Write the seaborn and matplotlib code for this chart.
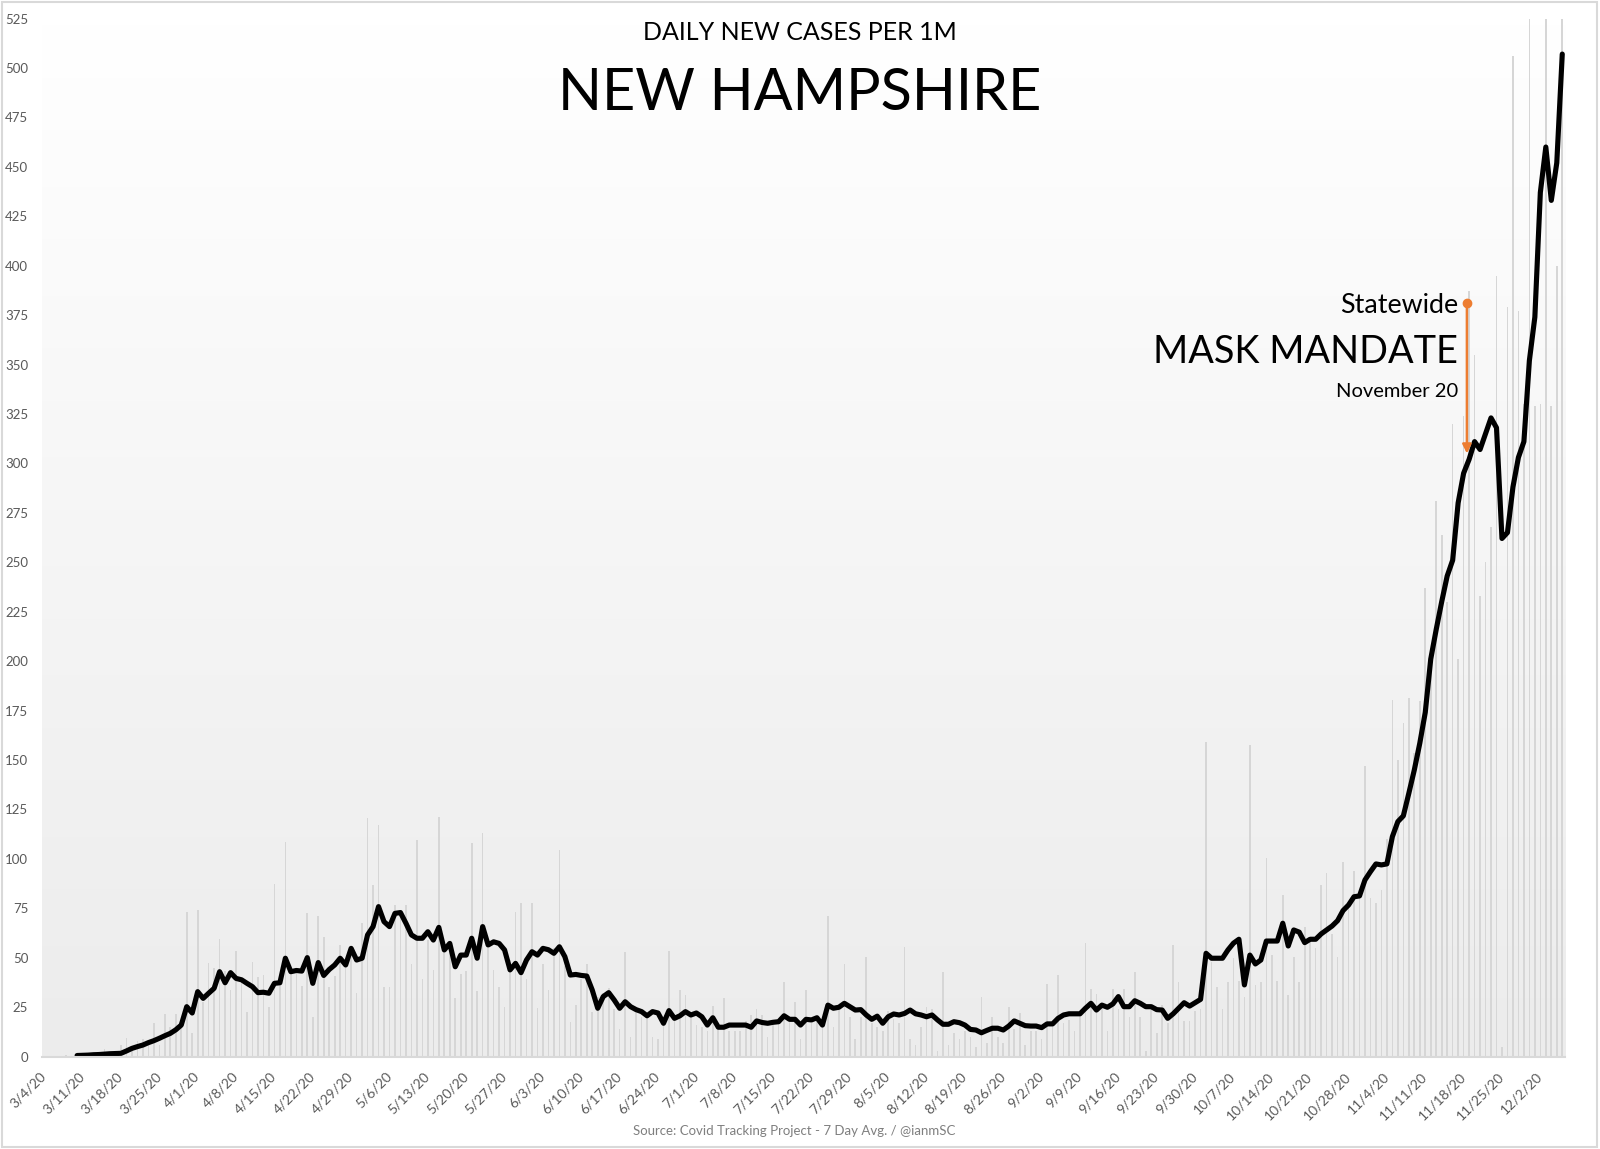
import numpy as np
import pandas as pd
import matplotlib
matplotlib.use("Agg")
import matplotlib.pyplot as plt
import seaborn as sns
from matplotlib.patches import Rectangle
from matplotlib.colors import LinearSegmentedColormap

# ---------------- data ----------------
start_date = "2020-03-04"

daily_cases = [
    0, 0, 0, 0, 1, 0, 0.5, 0, 1, 1,
    1.5, 4, 2, 2, 5.8, 9.2, 4, 8, 9, 6,
    16.8, 6, 21.3, 15, 21.3, 17, 73.3, 12, 74.1, 27.7,
    47.1, 44.6, 59.3, 43, 33.7, 53.5, 39.5, 22.5, 48, 40,
    41, 25, 87.1, 37, 108.7, 43, 45, 35.5, 72.4, 20,
    71, 60.6, 35, 40.6, 56.4, 47, 52, 32, 67.4, 120.5,
    86.7, 117, 35, 35.3, 76.6, 72, 76.6, 47, 109.5, 39,
    58.9, 43.8, 121, 55, 55, 29.4, 41.5, 43, 108, 33,
    112.9, 55, 43.8, 35.3, 25.2, 48.8, 73.3, 77.5, 39, 77.5,
    24.4, 47, 33.7, 55, 104.5, 46, 17.6, 26, 39, 47,
    22.5, 30, 32, 34.5, 24, 13.7, 52.7, 10, 22.5, 20,
    20, 10, 9, 18, 53.5, 18, 33.6, 31, 20, 16,
    14.8, 13, 25.3, 17, 29.4, 13, 13, 13, 18, 21.2,
    23.8, 21.2, 10, 17, 17, 37.9, 18, 27.7, 9, 33.7,
    17, 19.5, 14.8, 71, 15, 26, 46.8, 20, 9, 20,
    50.5, 17, 15, 13, 23, 19, 17, 55.5, 9, 6,
    15, 25, 24, 3, 42.9, 6, 12, 9, 13, 10,
    5, 30.3, 7, 20, 10, 7, 25, 14, 22, 6,
    13, 13, 9, 36.7, 17, 41.2, 17, 18.5, 13, 22,
    57.6, 34, 31.5, 26, 13, 34, 24, 34, 20, 42.9,
    20, 3, 26, 12, 26, 17, 56.4, 37.5, 18, 18,
    23, 24, 159, 48, 35, 24, 37.5, 50, 38, 30,
    157.6, 36, 37.5, 100.2, 51.3, 38, 81.7, 31, 50.5, 37.5,
    65.7, 60, 55, 86.7, 92.6, 62, 50.5, 98.5, 76.6, 93.6,
    80, 147, 80, 77.5, 84.2, 110, 180.3, 150, 168.5, 181.2,
    153.4, 180, 237, 200, 281, 264, 230, 320, 201, 324,
    387, 355, 233, 250, 268, 395, 5, 379, 506, 377,
    330, 700, 329, 330, 700, 329, 400, 700,
]

avg_start_index = 6
avg_7day = [
    0.5, 0.6, 0.7, 0.9, 1.0, 1.2, 1.4, 1.5, 1.6, 2.8,
    4.1, 5.0, 5.8, 7.0, 8.0, 9.2, 10.5, 11.7, 13.5, 15.9,
    25.2, 22, 32.8, 29.4, 32, 34.5, 42.9, 37.3, 42.4, 39.5,
    38.8, 37, 35.3, 32.3, 32.5, 32, 37, 37.3, 49.7, 42.9,
    43.5, 43.2, 50, 37, 47.5, 41, 44, 46.3, 49.7, 46.3,
    54.7, 48.8, 49.7, 61.5, 65.7, 75.8, 68.2, 65.7, 72.4, 72.8,
    67.4, 61.5, 59.8, 59.8, 63.1, 58.9, 65.3, 53.9, 57.2, 45.4,
    51.3, 51.3, 59.8, 49.7, 65.7, 56.4, 58, 57.2, 53.9, 43.8,
    47.1, 42.4, 48.8, 53, 51.3, 54.7, 54, 52.2, 55.5, 50.5,
    41.2, 41.5, 41, 40.7, 33.6, 24.4, 30.3, 32.3, 28.6, 24.4,
    27.7, 25.2, 23.7, 22.7, 20.6, 22.7, 22, 16.8, 23.2, 19.3,
    20.6, 22.7, 21, 22, 20.1, 15.9, 19.6, 14.8, 14.8, 15.9,
    15.9, 15.9, 15.9, 14.8, 18, 17.2, 16.8, 17.3, 17.6, 20.6,
    18.8, 18.8, 15.9, 18.8, 18.5, 19.6, 15.9, 26, 24.4, 24.9,
    26.9, 25.2, 23.5, 23.7, 21, 18.8, 20.4, 16.8, 20.1, 21.5,
    21, 21.8, 23.5, 21.6, 21, 20.1, 21, 18.5, 16.3, 16.3,
    17.6, 17.1, 15.9, 13.7, 13.4, 12, 13.2, 14.3, 14.3, 13.4,
    15.4, 18, 16.8, 15.6, 15.4, 15.4, 14.6, 16.5, 16.5, 19.3,
    21, 21.6, 21.6, 21.6, 24.4, 26.9, 23.5, 26, 24.9, 26.6,
    30.3, 25.2, 25.2, 28.2, 26.9, 25.2, 25.2, 23.7, 23.5, 19.3,
    21.6, 24.4, 27.2, 25.5, 27.2, 28.9, 52.2, 49.7, 49.7, 49.7,
    53.9, 57.3, 59.3, 36.2, 51.3, 46.8, 48.8, 58.4, 58.4, 58.4,
    67.4, 55.9, 64, 62.9, 57.6, 59.3, 59.3, 62, 64, 66,
    68.7, 73.8, 76.6, 80.8, 81.2, 89.3, 93.5, 97.4, 96.9, 97.4,
    111.2, 118.8, 121.7, 133.1, 144.9, 158.4, 174, 201, 216, 230,
    243, 251, 280, 295, 302, 311, 307, 315, 323, 318,
    262, 265, 288, 303, 311, 352, 374, 437, 460, 433, 452, 507,
]

tick_labels = [
    "3/4/20", "3/11/20", "3/18/20", "3/25/20", "4/1/20", "4/8/20", "4/15/20",
    "4/22/20", "4/29/20", "5/6/20", "5/13/20", "5/20/20", "5/27/20", "6/3/20",
    "6/10/20", "6/17/20", "6/24/20", "7/1/20", "7/8/20", "7/15/20", "7/22/20",
    "7/29/20", "8/5/20", "8/12/20", "8/19/20", "8/26/20", "9/2/20", "9/9/20",
    "9/16/20", "9/23/20", "9/30/20", "10/7/20", "10/14/20", "10/21/20",
    "10/28/20", "11/4/20", "11/11/20", "11/18/20", "11/25/20", "12/2/20",
]
y_ticks = list(range(0, 526, 25))

title_small = "DAILY NEW CASES PER 1M"
title_big = "NEW HAMPSHIRE"
note_top = "Statewide"
note_mid = "MASK MANDATE"
note_bottom = "November 20"
source_text = "Source: Covid Tracking Project - 7 Day Avg. / @ianmSC"
mandate_x = 259.6          # annotation position (day index)
mandate_arrow = (381, 305)  # start / end height of the arrow

# ---------------- frames ----------------
n_days = len(daily_cases)
df_daily = pd.DataFrame({"day": np.arange(n_days), "cases": daily_cases})
df_avg = pd.DataFrame({"day": np.arange(avg_start_index, avg_start_index + len(avg_7day)),
                       "avg": avg_7day})

# ---------------- style ----------------
sns.set_style("white")
plt.rcParams["font.family"] = ["Lato", "DejaVu Sans"]

W, H = 1600, 1149
fig = plt.figure(figsize=(W / 100, H / 100), dpi=100)
fig.patch.set_facecolor("white")

def fx(px):
    return px / W

def fy(py):
    return 1 - py / H

ax_left, ax_right, ax_top, ax_bottom = 41.5, 1565, 18.5, 1056.5
ax = fig.add_axes([fx(ax_left), fy(ax_bottom), (ax_right - ax_left) / W, (ax_bottom - ax_top) / H])
ax.set_facecolor("white")

# gradient background of plot area
xmin, xmax = -0.5, n_days - 0.5
grad = np.linspace(0, 1, 256).reshape(-1, 1)
cmap = LinearSegmentedColormap.from_list("bg", ["#ececec", "#ffffff"])
ax.imshow(grad, cmap=cmap, extent=[xmin, xmax, 0, 525], origin="lower",
          aspect="auto", zorder=0, interpolation="bilinear")

sns.barplot(data=df_daily, x="day", y="cases", native_scale=True, width=0.3,
            color="#d6d6d6", saturation=1, errorbar=None, linewidth=0, ax=ax, zorder=2)

sns.lineplot(data=df_avg, x="day", y="avg", color="black", linewidth=3.7, ax=ax,
             solid_joinstyle="round", solid_capstyle="round", zorder=3)

ax.set_xlim(xmin, xmax)
ax.set_ylim(0, 525)
ax.set_yticks(y_ticks)
ax.set_yticklabels([str(v) for v in y_ticks])
ax.set_xticks(np.arange(0, n_days, 7)[:len(tick_labels)])
ax.set_xticklabels(tick_labels, rotation=45, ha="right", va="center", rotation_mode="anchor")
ax.set_xlabel("")
ax.set_ylabel("")
ax.grid(False)
for s in ["top", "right", "left"]:
    ax.spines[s].set_visible(False)
ax.spines["bottom"].set_color("#d9d9d9")
ax.spines["bottom"].set_linewidth(1.5)
ax.spines["bottom"].set_zorder(4)
ax.tick_params(axis="y", length=0, pad=9.5, labelsize=9.5, labelcolor="#595959")
ax.tick_params(axis="x", length=0, pad=13, labelsize=10, labelcolor="#595959")

# arrow annotation
ax.annotate("", xy=(mandate_x, mandate_arrow[1]), xytext=(mandate_x, mandate_arrow[0]),
            arrowprops=dict(arrowstyle="-|>", color="#ED7D31", lw=1.8,
                            mutation_scale=13, shrinkA=0, shrinkB=0), zorder=5)
ax.plot([mandate_x], [mandate_arrow[0]], marker="o", color="#ED7D31", ms=6, zorder=6)

# texts
fig.text(fx(800), fy(40.5), title_small, ha="center", va="baseline", fontsize=18, color="black")
fig.text(fx(800), fy(110.5), title_big, ha="center", va="baseline", fontsize=41.5, color="black")
fig.text(fx(1458), fy(312.7), note_top, ha="right", va="baseline", fontsize=19.3, color="black")
fig.text(fx(1458), fy(362.7), note_mid, ha="right", va="baseline", fontsize=27.3, color="black")
fig.text(fx(1458), fy(396.7), note_bottom, ha="right", va="baseline", fontsize=14.5, color="black")
fig.text(fx(794), fy(1131), source_text, ha="center", va="center", fontsize=9.5, color="#7f7f7f")

# outer border
fig.patches.append(Rectangle((fx(1.5), fy(1147)), fx(1595), (1147 - 1.5) / H,
                             transform=fig.transFigure, fill=False,
                             edgecolor="#d9d9d9", linewidth=1.5))

fig.savefig("out.png", dpi=100, facecolor="white")
